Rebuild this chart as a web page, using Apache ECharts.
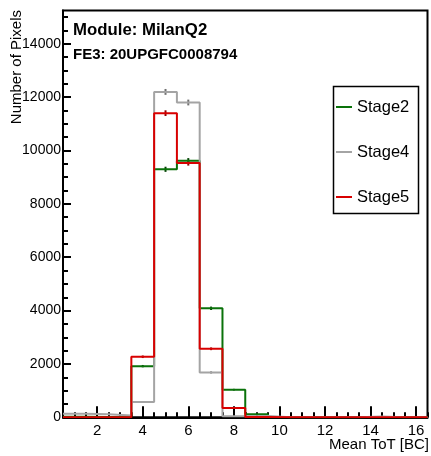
<!DOCTYPE html>
<html><head><meta charset="utf-8">
<script src="https://cdn.jsdelivr.net/npm/echarts@6/dist/echarts.min.js"></script>
<style>html,body{margin:0;padding:0;background:#fff}#c{width:431px;height:456px}</style>
</head><body><div id="c"></div>
<script>
// ---- data ----
const binCenters = [1, 2, 3, 4, 5, 6, 7, 8, 9, 10, 11, 12, 13, 14, 15, 16];
const stage2 = [20, 15, 10, 1918, 9297, 9619, 4086, 1035, 115, 5, 0, 0, 0, 0, 0, 0];
const stage4 = [130, 110, 70, 572, 12198, 11801, 1682, 40, 50, 0, 0, 0, 0, 30, 0, 0];
const stage5 = [0, 0, 0, 2269, 11402, 9533, 2568, 348, 10, 0, 0, 0, 0, 0, 0, 0];
const xMajorTicks = [2, 4, 6, 8, 10, 12, 14, 16];
const xMinorTicks = [1, 1.5, 2.5, 3, 3.5, 4.5, 5, 5.5, 6.5, 7, 7.5, 8.5, 9, 9.5, 10.5, 11, 11.5, 12.5, 13, 13.5, 14.5, 15, 15.5, 16.5];
const yMajorTicks = [0, 2000, 4000, 6000, 8000, 10000, 12000, 14000];
const yMinorTicks = [500, 1000, 1500, 2500, 3000, 3500, 4500, 5000, 5500, 6500, 7000, 7500, 8500, 9000, 9500, 10500, 11000, 11500, 12500, 13000, 13500, 14500, 15000];
const xRange = [0.5, 16.5];
const yRange = [0, 15250];

const FONT = 'Liberation Sans, Arial, Helvetica, sans-serif';
const stages = [
  { name: 'Stage2', values: stage2, color: '#0a720a', err: '#034003' },
  { name: 'Stage4', values: stage4, color: '#a4a4a4', err: '#707070' },
  { name: 'Stage5', values: stage5, color: '#d80000', err: '#900000' }
];

function stepPoints(vals) {
  const pts = binCenters.map((c, i) => [c - 0.5, vals[i]]);
  pts.push([binCenters[binCenters.length - 1] + 0.5, vals[vals.length - 1]]);
  return pts;
}
function errPoints(vals) {
  return binCenters.map((c, i) => [c, vals[i], Math.sqrt(vals[i])]).filter(p => p[1] > 0);
}

const series = [];
stages.forEach(s => {
  series.push({
    name: s.name, type: 'line', step: 'end', xAxisIndex: 0, yAxisIndex: 0,
    data: stepPoints(s.values), showSymbol: false, symbol: 'none',
    lineStyle: { color: s.color, width: 2 }, itemStyle: { color: s.color },
    animation: false
  });
  series.push({
    name: s.name + ' err', type: 'custom', xAxisIndex: 0, yAxisIndex: 0,
    data: errPoints(s.values), animation: false, silent: true,
    renderItem: (params, api) => {
      const x = api.value(0), y = api.value(1), e = api.value(2);
      const p1 = api.coord([x, y - e]), p2 = api.coord([x, y + e]);
      return { type: 'line', shape: { x1: p1[0], y1: p1[1], x2: p2[0], y2: p2[1] },
               style: { stroke: s.err, lineWidth: 2 } };
    }
  });
});

const axisBase = { type: 'value', splitLine: { show: false } };
const option = {
  animation: false,
  backgroundColor: '#fff',
  grid: { left: 63, right: 3.5, top: 10.5, bottom: 38.7, show: true, borderColor: '#000', borderWidth: 2, containLabel: false, outerBoundsMode: 'none' },
  xAxis: [
    Object.assign({}, axisBase, { min: xRange[0], max: xRange[1], position: 'bottom',
      axisLine: { show: true, onZero: false, lineStyle: { color: '#000', width: 2 } },
      axisTick: { show: true, inside: true, length: 11, customValues: xMajorTicks, lineStyle: { color: '#000', width: 2 } },
      axisLabel: { show: true, customValues: xMajorTicks, fontSize: 15, color: '#000', margin: 6, fontFamily: FONT, formatter: v => String(v) } }),
    Object.assign({}, axisBase, { min: xRange[0], max: xRange[1], position: 'bottom',
      axisLine: { show: false, onZero: false },
      axisTick: { show: true, inside: true, length: 5, customValues: xMinorTicks, lineStyle: { color: '#000', width: 2 } },
      axisLabel: { show: false } })
  ],
  yAxis: [
    Object.assign({}, axisBase, { min: yRange[0], max: yRange[1], position: 'left',
      axisLine: { show: true, onZero: false, lineStyle: { color: '#000', width: 2 } },
      axisTick: { show: true, inside: true, length: 8, customValues: yMajorTicks, lineStyle: { color: '#000', width: 2 } },
      axisLabel: { show: true, customValues: yMajorTicks, fontSize: 14, color: '#000', margin: 2, fontFamily: FONT, formatter: v => String(v) } }),
    Object.assign({}, axisBase, { min: yRange[0], max: yRange[1], position: 'left',
      axisLine: { show: false, onZero: false },
      axisTick: { show: true, inside: true, length: 5, customValues: yMinorTicks, lineStyle: { color: '#000', width: 2 } },
      axisLabel: { show: false } })
  ],
  legend: {
    orient: 'vertical', left: 336, top: 98.5, itemWidth: 16, itemHeight: 2, itemGap: 28,
    icon: 'rect', padding: 0,
    data: stages.map(s => s.name),
    textStyle: { fontSize: 16.5, color: '#000', fontFamily: FONT }
  },
  graphic: [
    { type: 'rect', shape: { x: 333.5, y: 86.5, width: 85, height: 127 }, style: { fill: 'none', stroke: '#000', lineWidth: 1.5 }, silent: true },
    { type: 'text', x: 73, y: 30, style: { text: 'Module: MilanQ2', fontSize: 16.8, fontWeight: 'bold', fontFamily: FONT, fill: '#000', verticalAlign: 'middle' } },
    { type: 'text', x: 73, y: 55, style: { text: 'FE3: 20UPGFC0008794', fontSize: 15, fontWeight: 'bold', fontFamily: FONT, fill: '#000', verticalAlign: 'middle' } },
    { type: 'text', x: 17, y: 10, rotation: Math.PI / 2, style: { text: 'Number of Pixels', fontSize: 15, fontFamily: FONT, fill: '#000', align: 'right', verticalAlign: 'middle' } },
    { type: 'text', x: 429, y: 445, style: { text: 'Mean ToT [BC]', fontSize: 15, fontFamily: FONT, fill: '#000', align: 'right', verticalAlign: 'middle' } }
  ],
  series: series
};
const chart = echarts.init(document.getElementById('c'), null, { renderer: 'canvas' });
chart.setOption(option);
</script>
</body></html>
